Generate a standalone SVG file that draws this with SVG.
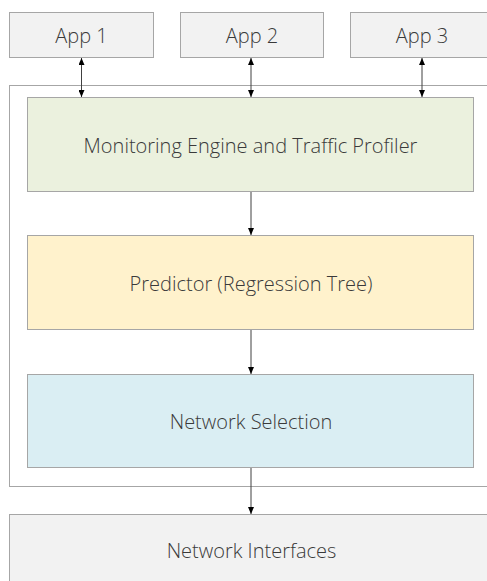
<svg xmlns="http://www.w3.org/2000/svg" width="487" height="581" viewBox="0 0 487 581">
  <style>
    .box { stroke: #a6a6a6; stroke-width: 1; }
    .app { fill: #f2f2f2; }
    .mon { fill: #ebf1de; }
    .pred { fill: #fff2cc; }
    .sel { fill: #daeef3; }
    .nif { fill: #f2f2f2; }
    .frame { fill: #ffffff; stroke: #a6a6a6; stroke-width: 1; }
    .lbl { font-family: "Open Sans", "Noto Sans", sans-serif; font-weight: 300; font-size: 20px; fill: #3a3a3a; text-anchor: middle; }
    .wire { stroke: #404040; stroke-width: 1; fill: none; }
  </style>
  <defs>
    <marker id="head" viewBox="0 0 7 6" refX="7" refY="3" markerWidth="7" markerHeight="6" markerUnits="userSpaceOnUse" orient="auto-start-reverse">
      <path d="M0,0 L7,3 L0,6 Z" fill="#000000"/>
    </marker>
  </defs>

  <rect width="487" height="581" fill="#ffffff"/>

  <!-- enclosing frame around the processing stack -->
  <rect class="frame" x="9.5" y="85.5" width="490" height="401"/>

  <g id="app1">
    <rect class="box app" x="9.5" y="12.5" width="144" height="45"/>
    <text class="lbl" x="81.5" y="43">App 1</text>
  </g>
  <g id="app2">
    <rect class="box app" x="180.5" y="12.5" width="143" height="45"/>
    <text class="lbl" x="252" y="43">App 2</text>
  </g>
  <g id="app3">
    <rect class="box app" x="350.5" y="12.5" width="150" height="45"/>
    <text class="lbl" x="422" y="43">App 3</text>
  </g>

  <g id="monitor">
    <rect class="box mon" x="27.5" y="97.5" width="446" height="94"/>
    <text class="lbl" x="250.5" y="153">Monitoring Engine and Traffic Profiler</text>
  </g>
  <g id="predictor">
    <rect class="box pred" x="27.5" y="235.5" width="446" height="94"/>
    <text class="lbl" x="251" y="291">Predictor (Regression Tree)</text>
  </g>
  <g id="selection">
    <rect class="box sel" x="27.5" y="374.5" width="446" height="93"/>
    <text class="lbl" x="251" y="429">Network Selection</text>
  </g>
  <g id="interfaces">
    <rect class="box nif" x="9.5" y="514.5" width="490" height="80"/>
    <text class="lbl" x="251.5" y="558">Network Interfaces</text>
  </g>

  <g id="connectors">
    <line class="wire" x1="81.5" y1="58" x2="81.5" y2="97" marker-start="url(#head)" marker-end="url(#head)"/>
    <line class="wire" x1="251" y1="58" x2="251" y2="97" marker-start="url(#head)" marker-end="url(#head)"/>
    <line class="wire" x1="422" y1="58" x2="422" y2="97" marker-start="url(#head)" marker-end="url(#head)"/>
    <line class="wire" x1="251" y1="192" x2="251" y2="235" marker-end="url(#head)"/>
    <line class="wire" x1="251" y1="330" x2="251" y2="374" marker-end="url(#head)"/>
    <line class="wire" x1="251" y1="468" x2="251" y2="514" marker-end="url(#head)"/>
  </g>
</svg>
